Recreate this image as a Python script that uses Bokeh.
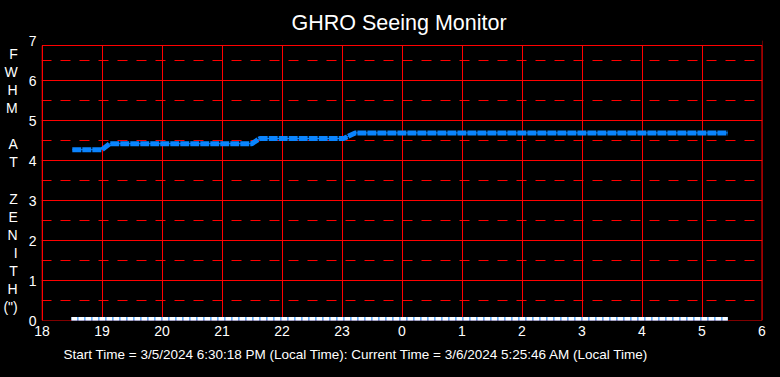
from bokeh.plotting import figure
from bokeh.models import Range1d, FixedTicker, Title, BoxAnnotation, GlobalInlineStyleSheet
from bokeh.embed import file_html
from bokeh.resources import INLINE

# ---- data ----
TITLE = "GHRO Seeing Monitor"
FOOTER = "Start Time = 3/5/2024 6:30:18 PM (Local Time): Current Time = 3/6/2024 5:25:46 AM (Local Time)"
Y_LABEL_CHARS = ["F", "W", "H", "M", "", "A", "T", "", "Z", "E", "N", "I", "T", "H", "(\")"]

x_ticks = [18, 19, 20, 21, 22, 23, 24, 25, 26, 27, 28, 29, 30]
x_tick_labels = ["18", "19", "20", "21", "22", "23", "0", "1", "2", "3", "4", "5", "6"]
y_ticks = [0, 1, 2, 3, 4, 5, 6, 7]
y_minor = [0.5, 1.5, 2.5, 3.5, 4.5, 5.5, 6.5]
y_plot_top = 6.875  # top edge of the drawn plot box

# hours since midnight of start day (24+ = next morning)
seeing_time = [18.505, 19.00, 19.13, 21.50, 21.63, 23.03, 23.22, 29.43]
seeing_fwhm = [4.27, 4.27, 4.42, 4.42, 4.55, 4.55, 4.69, 4.69]

zenith_time = [18.49, 29.43]
zenith_val = [0.04, 0.04]

BLUE = "#0A84FF"
RED = "#FF0000"
FONT = "Liberation Sans"

# scales: 60 px per hour, 40 px per FWHM unit; half-pixel x shift keeps 1px lines crisp
PX_PER_H = 60.0
FRAME_W = 721
FRAME_H = 280
x0 = 18 - 0.5 / PX_PER_H

p = figure(frame_width=FRAME_W, frame_height=FRAME_H,
           x_range=Range1d(x0, x0 + FRAME_W / PX_PER_H),
           y_range=Range1d(0, 7),
           output_backend="svg", toolbar_location=None,
           min_border_left=40, min_border_right=19,
           min_border_top=40, min_border_bottom=57,
           background_fill_color="black", border_fill_color="black",
           outline_line_color=None)

p.stylesheets = [GlobalInlineStyleSheet(css="html, body { background-color: #000; }")]

# title
p.title.text = TITLE
p.title.align = "left"
p.title.offset = 250
p.title.text_color = "white"
p.title.text_font = FONT
p.title.text_font_size = "21.5px"
p.title.text_font_style = "normal"
p.title.standoff = 11

# footer
p.add_layout(Title(text=FOOTER, align="left", offset=22, text_color="white",
                   text_font=FONT, text_font_size="13.5px", text_font_style="normal",
                   standoff=13), "below")

# grids
p.xgrid.ticker = FixedTicker(ticks=x_ticks)
p.xgrid.grid_line_color = RED
p.xgrid.grid_line_width = 1
p.xgrid.grid_line_alpha = 1
p.ygrid.ticker = FixedTicker(ticks=y_ticks, minor_ticks=y_minor)
p.ygrid.grid_line_color = RED
p.ygrid.grid_line_width = 1
p.ygrid.grid_line_alpha = 1
p.ygrid.minor_grid_line_color = RED
p.ygrid.minor_grid_line_dash = "10 9"
p.ygrid.minor_grid_line_width = 1

# black strip above the plot box, and the plot box border
p.add_layout(BoxAnnotation(bottom=y_plot_top, fill_color="black", fill_alpha=1,
                           line_color=None, level="underlay"))
p.add_layout(BoxAnnotation(left=18, right=30, bottom=0, top=y_plot_top,
                           fill_color=None, fill_alpha=0, line_color=RED,
                           line_width=1, line_alpha=1, level="underlay"))

# axes
p.xaxis.ticker = FixedTicker(ticks=x_ticks)
p.xaxis.major_label_overrides = {t: l for t, l in zip(x_ticks, x_tick_labels)}
p.yaxis.ticker = FixedTicker(ticks=y_ticks)
for ax in (p.xaxis[0], p.yaxis[0]):
    ax.axis_line_color = None
    ax.major_tick_line_color = None
    ax.minor_tick_line_color = None
    ax.major_tick_out = 0
    ax.major_tick_in = 0
    ax.major_label_text_color = "white"
    ax.major_label_text_font = FONT
    ax.major_label_text_font_size = "14px"
p.xaxis.major_label_standoff = 5
p.yaxis.major_label_standoff = 5

p.yaxis.axis_label = "\n".join(Y_LABEL_CHARS)
p.yaxis.axis_label_orientation = "horizontal"
p.yaxis.axis_label_text_align = "center"
p.yaxis.axis_label_text_color = "white"
p.yaxis.axis_label_text_font = FONT
p.yaxis.axis_label_text_font_size = "14px"
p.yaxis.axis_label_text_font_style = "normal"
p.yaxis.axis_label_text_line_height = 1.13
p.yaxis.axis_label_standoff = 8

# series
p.line(seeing_time, seeing_fwhm, line_color=BLUE, line_width=1)
p.line(seeing_time, seeing_fwhm, line_color=BLUE, line_width=5, line_dash="9 1")
p.line(zenith_time, zenith_val, line_color=BLUE, line_width=4)
p.line(zenith_time, zenith_val, line_color="white", line_width=4, line_dash="6 1")

open("out.html", "w").write(file_html(p, INLINE))
